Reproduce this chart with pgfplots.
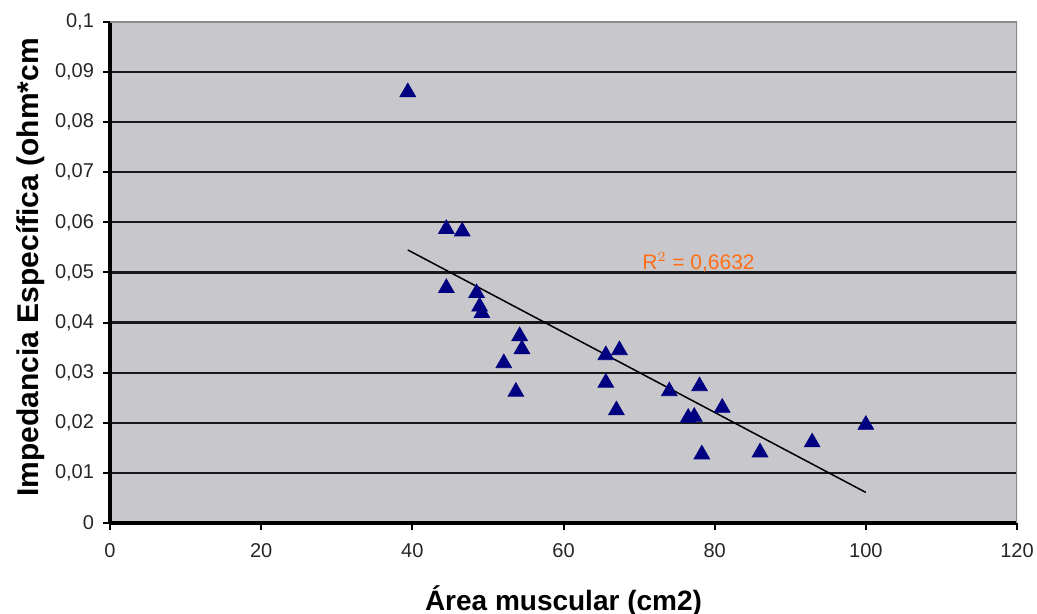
\documentclass[border=0pt]{standalone}
\usepackage{fontspec}
\setmainfont{Liberation Sans}
\usepackage{pgfplots}
\pgfplotsset{compat=1.18}
\definecolor{plotgray}{RGB}{200,200,204}
\definecolor{navy}{RGB}{0,0,128}
\definecolor{rsq}{RGB}{255,110,20}
\begin{document}
\begin{tikzpicture}
\begin{axis}[
    name=ax,
    scale only axis,
    width=453.5pt, height=250.5pt,
    xmin=0, xmax=120, ymin=0, ymax=0.1,
    axis lines*=left,
    axis line style={black, line width=1.6pt},
    axis background/.style={fill=plotgray},
    xtick={0,20,...,120},
    hide obscured x ticks=false,
    hide obscured y ticks=false,
    ytick={0.01,0.02,0.03,0.04,0.05,0.06,0.07,0.08,0.09},
    extra y ticks={0,0.1},
    extra y tick style={grid=none},
    ymajorgrids,
    grid style={black!90, line width=1.1pt},
    tick align=outside,
    major tick length=3.5pt,
    tick style={black, line width=1pt},
    scaled y ticks=false,
    /pgf/number format/.cd, fixed, precision=2, use comma, 1000 sep={},
    assume math mode=true,
    /pgfplots/.cd,
    tick label style={font=\fontsize{10}{12}\selectfont, text=black!85},
    yticklabel style={xshift=-1pt},
    xticklabel style={yshift=-3pt},
    xlabel={Área muscular (cm2)},
    ylabel={Impedancia Específica (ohm*cm},
    xlabel style={font=\fontsize{14}{16}\selectfont\bfseries, at={(axis description cs:0.5,0)}, anchor=north, yshift=-28pt},
    ylabel style={font=\fontsize{15}{17}\selectfont\bfseries, at={(axis description cs:-0.088,0.51)}, anchor=center},
]
\addplot[only marks, mark=triangle*, mark size=4.5pt,
         mark options={fill=navy, draw=navy}] coordinates {
    (39.4,0.0860) (44.5,0.0587) (46.6,0.0582) (44.5,0.0469)
    (48.5,0.0459) (48.9,0.0432) (49.2,0.0419) (54.2,0.0373)
    (54.5,0.0347) (52.1,0.0319) (53.7,0.0262) (65.6,0.0335)
    (67.4,0.0345) (65.6,0.0280) (67.0,0.0225) (74.0,0.0263)
    (78.0,0.0273) (81.0,0.0230) (76.5,0.0210) (77.3,0.0212)
    (78.3,0.0137) (86.0,0.0141) (92.9,0.0161) (100.0,0.0196)
};
\addplot[black, line width=0.75pt] coordinates {(39.4,0.0545) (100,0.0061)};
\node[anchor=west, text=rsq, font=\fontsize{10.5}{12}\selectfont] at (axis cs:69.5,0.0521) {R$^{2}$ = 0,6632};
\draw[black!45, line width=0.8pt] (rel axis cs:0,1) -- (rel axis cs:1,1) -- (rel axis cs:1,0);
\end{axis}
\pgfresetboundingbox
\path[use as bounding box] ([xshift=-55pt,yshift=-45.5pt]ax.south west) rectangle ([xshift=10pt,yshift=11pt]ax.north east);
\end{tikzpicture}
\end{document}
